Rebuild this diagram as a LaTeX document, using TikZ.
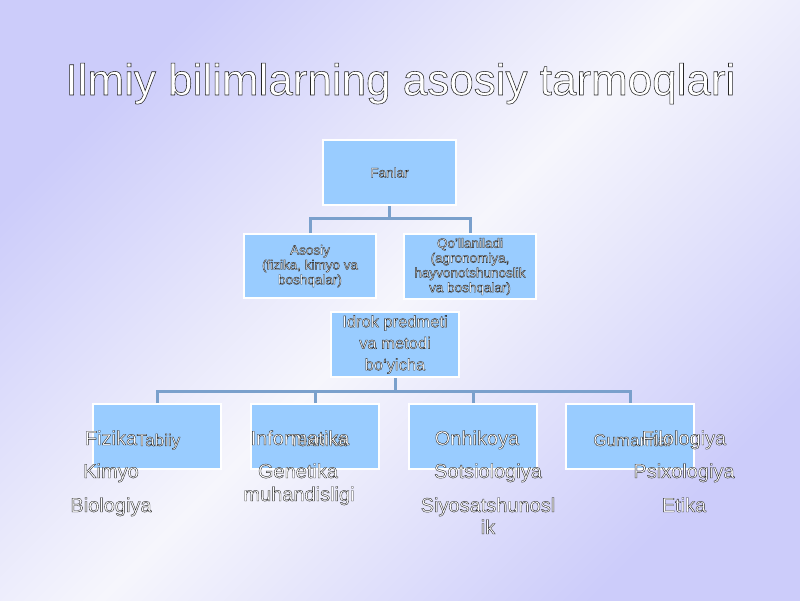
\documentclass[tikz,border=0pt]{standalone}
\usepackage{fontspec}
\setmainfont{Liberation Sans}
\definecolor{boxblue}{RGB}{153,204,255}
\definecolor{connblue}{RGB}{122,160,204}
\definecolor{bgpurple}{RGB}{204,204,250}
\definecolor{bglight}{RGB}{246,246,252}
% white text with a thin dark outline (PDF text render mode 2: fill + stroke)
\newcommand{\ct}[1]{\special{pdf:literal direct 2 Tr 0.38 w 0.15 0.15 0.15 RG}#1\special{pdf:literal direct 0 Tr}}
\newcommand{\ctt}[1]{\special{pdf:literal direct 2 Tr 0.55 w 0.15 0.15 0.15 RG}#1\special{pdf:literal direct 0 Tr}}
\tikzset{
  boxnode/.style={draw=white, line width=2pt, fill=boxblue, inner sep=0pt,
    minimum width=#1, minimum height=65pt},
  conn/.style={draw=connblue, line width=3pt},
  smalltxt/.style={text=white, font=\fontsize{13.5}{14.8}\selectfont, align=center},
  midtxt/.style={text=white, font=\fontsize{16.5}{21.5}\selectfont, align=center},
  labeltxt/.style={text=white, font=\fontsize{17}{20}\selectfont, inner sep=0pt, anchor=base},
  itemtxt/.style={text=white, font=\fontsize{20}{23}\selectfont, inner sep=0pt, anchor=base},
  titletxt/.style={text=white, font=\fontsize{44}{50}\selectfont, inner sep=0pt, anchor=base}
}
\begin{document}
\begin{tikzpicture}[x=1pt,y=-1pt]
\useasboundingbox (0,0) rectangle (800,600);
\shade[top color=bgpurple, bottom color=bgpurple, middle color=bglight, shading angle=45]
  (0,0) rectangle (800,600);

% title
\node[titletxt] (title) at (400.5,95) {\ctt{Ilmiy bilimlarning asosiy tarmoqlari}};

% upper tree
\node[boxnode=133pt, smalltxt] (fanlar) at (389.5,172.5) {\ct{Fanlar}};
\node[boxnode=132pt, minimum height=64pt, smalltxt] (asosiy) at (310,266)
  {\ct{Asosiy}\\\ct{(fizika, kimyo va}\\\ct{boshqalar)}};
\node[boxnode=132pt, smalltxt] (qol) at (470,266.5)
  {\ct{Qo’llaniladi}\\\ct{(agronomiya,}\\\ct{hayvonotshunoslik}\\\ct{va boshqalar)}};
\coordinate (j1) at (389.5,218);
\draw[conn] (fanlar.south) -- (j1);
\draw[conn] (asosiy.north) |- (j1) -| (qol.north);

% lower tree
\node[boxnode=128pt, midtxt] (idrok) at (395,344.5)
  {\ct{Idrok predmeti}\\\ct{va metodi}\\\ct{bo‘yicha}};
\node[boxnode=128pt] (b1) at (157,436.5) {};
\node[boxnode=128pt] (b2) at (315,436.5) {};
\node[boxnode=128pt] (b3) at (473,436.5) {};
\node[boxnode=128pt] (b4) at (630,436.5) {};
\coordinate (j2) at (395,391);
\draw[conn] (idrok.south) -- (j2);
\draw[conn] (b1.north) |- (j2) -| (b4.north);
\draw[conn] (b2.north) -- (b2.north |- j2);
\draw[conn] (b3.north) -- (b3.north |- j2);

% box labels
\node[labeltxt] (l1) at (158.5,446) {\ct{Tabiiy}};
\node[labeltxt] (l2) at (318,446) {\ct{Texnika}};
\node[labeltxt] (l4) at (633,446) {\ct{Gumanitar}};

% column 1
\node[itemtxt] (c1a) at (111,445) {\ct{Fizika}};
\node[itemtxt] (c1b) at (111,478) {\ct{Kimyo}};
\node[itemtxt] (c1c) at (111,512) {\ct{Biologiya}};
% column 2
\node[itemtxt] (c2a) at (300,445) {\ct{Informatika}};
\node[itemtxt] (c2b) at (298,478) {\ct{Genetika}};
\node[itemtxt] (c2c) at (299,501) {\ct{muhandisligi}};
% column 3
\node[itemtxt] (c3a) at (477,445) {\ct{Onhikoya}};
\node[itemtxt] (c3b) at (488,478) {\ct{Sotsiologiya}};
\node[itemtxt] (c3c) at (488,512) {\ct{Siyosatshunosl}};
\node[itemtxt] (c3d) at (488,534) {\ct{ik}};
% column 4
\node[itemtxt] (c4a) at (684,445) {\ct{Filologiya}};
\node[itemtxt] (c4b) at (684,478) {\ct{Psixologiya}};
\node[itemtxt] (c4c) at (684,512) {\ct{Etika}};
\end{tikzpicture}
\end{document}
